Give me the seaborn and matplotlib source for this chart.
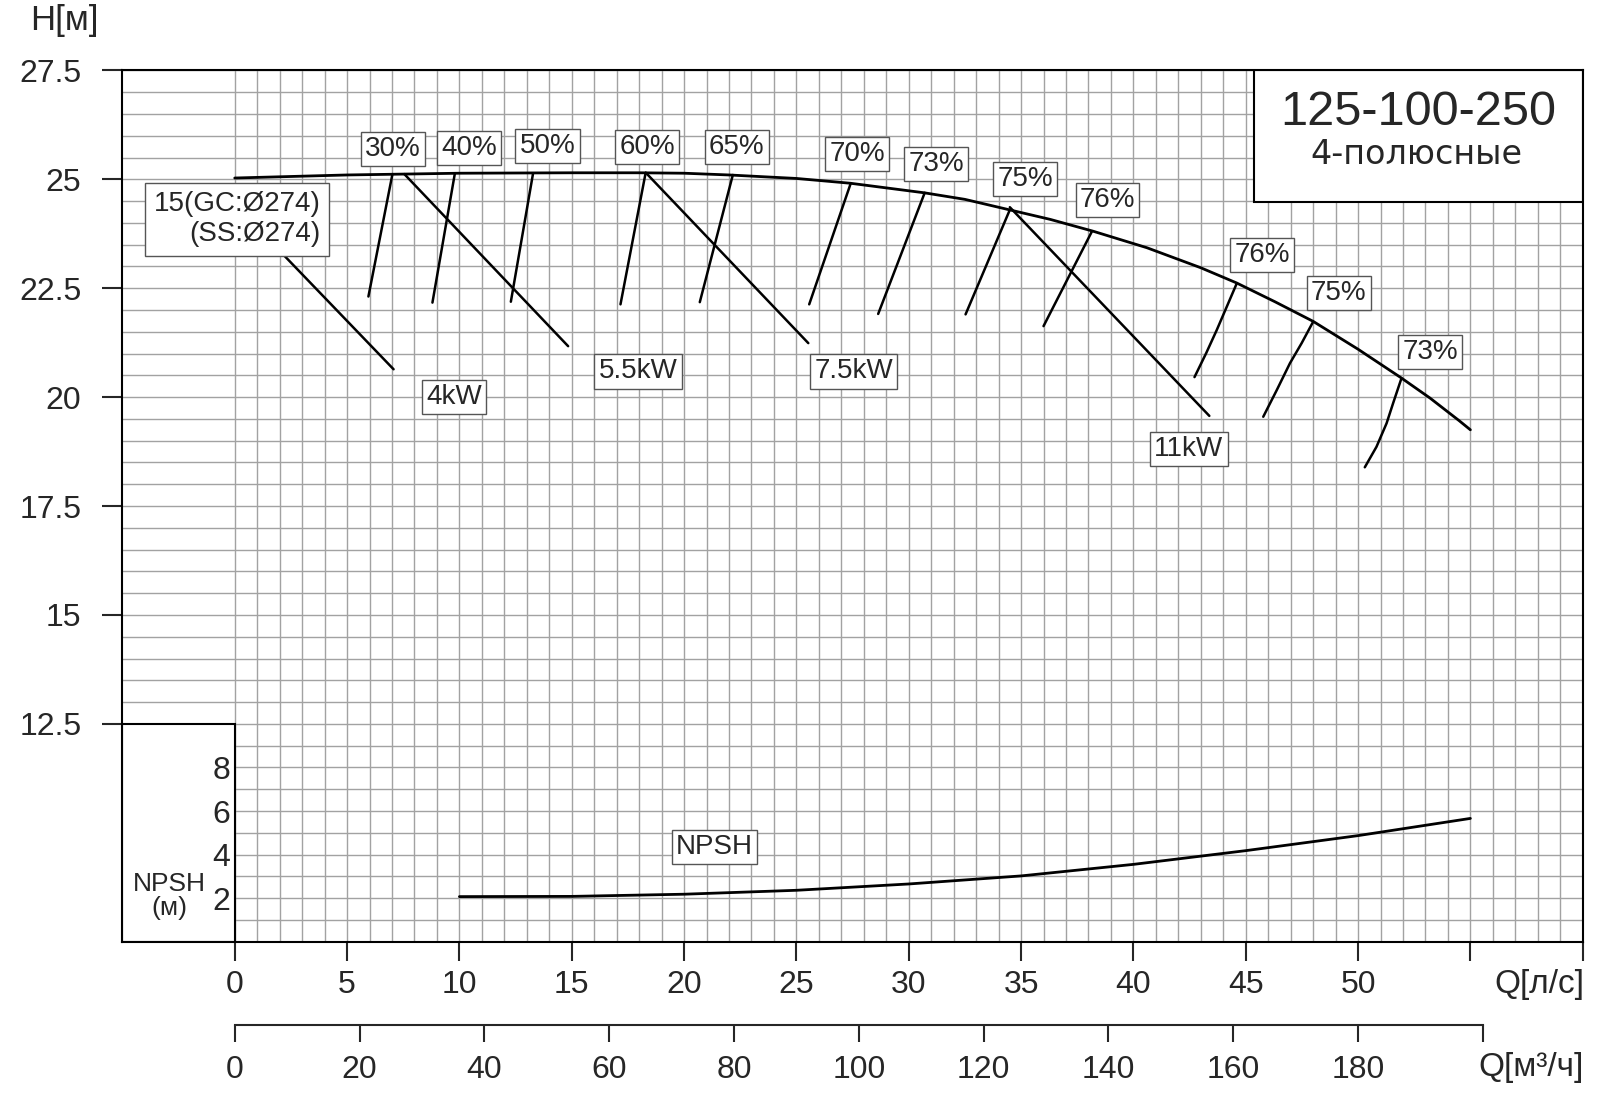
import matplotlib
matplotlib.use("Agg")
import matplotlib.pyplot as plt
import seaborn as sns
import numpy as np
import pandas as pd
from matplotlib.patches import Rectangle

# ---------------- data ----------------
hq_q = [0, 5, 10, 15, 18, 20, 22, 25, 27.4, 30.7, 32.5, 34.4, 36.3, 38.2, 40.6, 43.0, 44.6, 46.3, 48.0, 50.0, 51.9, 53.2, 54.5, 55.0]
hq_h = [25.03, 25.10, 25.14, 25.15, 25.15, 25.14, 25.10, 25.02, 24.91, 24.69, 24.54, 24.31, 24.08, 23.81, 23.43, 22.97, 22.62, 22.19, 21.74, 21.10, 20.45, 19.98, 19.46, 19.25]

npsh_q = [10, 15, 20, 25, 30, 35, 40, 45, 50, 55]
npsh_v = [2.07, 2.08, 2.18, 2.36, 2.65, 3.02, 3.55, 4.18, 4.87, 5.66]

eff_labels = ["30%", "40%", "50%", "60%", "65%", "70%", "73%", "75%", "76%", "76%", "75%", "73%"]
eff_q = [[7.02, 5.95], [9.80, 8.80], [13.28, 12.29], [18.29, 17.17], [22.17, 20.70],
         [27.42, 25.57], [30.71, 28.64], [34.50, 32.53], [38.16, 36.00],
         [44.60, 44.16, 43.71, 43.24, 42.72],
         [48.00, 47.49, 46.97, 46.38, 45.78],
         [51.93, 51.56, 51.27, 50.82, 50.30]]
eff_h = [[25.12, 22.31], [25.14, 22.17], [25.14, 22.19], [25.15, 22.13], [25.10, 22.18],
         [24.91, 22.13], [24.69, 21.91], [24.30, 21.90], [23.81, 21.63],
         [22.61, 22.08, 21.54, 21.01, 20.46],
         [21.73, 21.24, 20.78, 20.16, 19.55],
         [20.43, 19.86, 19.40, 18.86, 18.39]]
eff_lab_q = [7.03, 10.43, 13.92, 18.36, 22.35, 27.7, 31.23, 35.18, 38.85, 45.74, 49.14, 53.22]
eff_lab_h = [25.70, 25.72, 25.77, 25.74, 25.74, 25.58, 25.35, 25.00, 24.53, 23.26, 22.39, 21.04]

pw_labels = ["4kW", "5.5kW", "7.5kW", "11kW"]
pw_q = [[2.07, 7.07], [7.55, 14.84], [18.30, 25.53], [34.50, 43.38]]
pw_h = [[23.32, 20.64], [25.12, 21.17], [25.15, 21.24], [24.36, 19.57]]
pw_lab_q = [9.75, 17.95, 27.56, 42.47]
pw_lab_h = [20.00, 20.59, 20.59, 18.81]

x_ticks = [0, 5, 10, 15, 20, 25, 30, 35, 40, 45, 50, 55, 60]
x_labels = ["0", "5", "10", "15", "20", "25", "30", "35", "40", "45", "50", "", ""]
m3_ticks = [0, 20, 40, 60, 80, 100, 120, 140, 160, 180, 200]
m3_labels = ["0", "20", "40", "60", "80", "100", "120", "140", "160", "180", ""]
y_ticks = [12.5, 15, 17.5, 20, 22.5, 25, 27.5]
y_labels = ["12.5", "15", "17.5", "20", "22.5", "25", "27.5"]
npsh_ticks = [2, 4, 6, 8]

title = "125-100-250"
subtitle = "4-полюсные"
curve_label = "15(GC:Ø274)\n(SS:Ø274)"

# ---------------- style ----------------
sns.set_style("ticks")
plt.rcParams["font.family"] = ["Liberation Sans", "DejaVu Sans"]
plt.rcParams["axes.linewidth"] = 1.5

fig = plt.figure(figsize=(16, 10.95), dpi=100)
ax = fig.add_axes([0.0765, 0.140, 0.9127, 0.7957])
ax.set_xlim(-5, 60)
ax.set_ylim(7.5, 27.5)

grid_c = "#a2a2a2"
ax.vlines(np.arange(0, 61, 1), 7.5, 27.5, colors=grid_c, lw=1.0, zorder=0)
ax.hlines(np.arange(7.5, 27.51, 0.5), -5, 60, colors=grid_c, lw=1.0, zorder=0)

for s in ax.spines.values():
    s.set_color("black")
    s.set_linewidth(1.5)
    s.set_zorder(5)

# NPSH box
ax.add_patch(Rectangle((-5, 7.5), 5, 5, facecolor="white", edgecolor="black", lw=1.5, zorder=3))
# title box
ax.add_patch(Rectangle((45.37, 24.48), 14.63, 3.02, facecolor="white", edgecolor="black", lw=1.5, zorder=3))
ax.text(52.67, 26.54, title, fontsize=35, ha="center", va="center", zorder=4)
ax.text(52.6, 25.56, subtitle, fontsize=24, ha="center", va="center", zorder=4,
        family=["DejaVu Sans"])

# main curve
sns.lineplot(x=hq_q, y=hq_h, ax=ax, color="black", lw=2.0, sort=False, estimator=None, zorder=4)
for qq, hh in zip(eff_q, eff_h):
    sns.lineplot(x=qq, y=hh, ax=ax, color="black", lw=1.8, sort=False, estimator=None, zorder=4)
for qq, hh in zip(pw_q, pw_h):
    sns.lineplot(x=qq, y=hh, ax=ax, color="black", lw=1.8, sort=False, estimator=None, zorder=4)

box = dict(boxstyle="square,pad=0.15", facecolor="white", edgecolor="#555555", lw=1.0)
for lab, qx, hy in zip(eff_labels, eff_lab_q, eff_lab_h):
    ax.text(qx, hy, lab, fontsize=20, ha="center", va="center", bbox=box, zorder=6)
for lab, qx, hy in zip(pw_labels, pw_lab_q, pw_lab_h):
    ax.text(qx, hy, lab, fontsize=20, ha="center", va="center", bbox=box, zorder=6)
ax.text(0.1, 24.08, curve_label, fontsize=20, ha="center", va="center", multialignment="right",
        linespacing=1.2, bbox=dict(boxstyle="square,pad=0.3", facecolor="white", edgecolor="#555555", lw=1.0),
        zorder=6)

# ticks
ax.set_xticks(x_ticks)
ax.set_xticklabels(x_labels)
ax.set_yticks(y_ticks)
ax.set_yticklabels(y_labels)
ax.tick_params(axis="x", direction="out", length=13.5, width=1.5, pad=7, labelsize=23)
ax.tick_params(axis="y", direction="out", length=14.5, width=1.5, pad=15, labelsize=23)
ax.set_xlabel("")
ax.set_ylabel("")

# NPSH axis
axn = ax.twinx()
axn.set_ylim(0, 40)
axn.yaxis.set_ticks_position("left")
axn.yaxis.set_label_position("left")
axn.spines["left"].set_position(("data", 0))
for s in axn.spines.values():
    s.set_visible(False)
axn.set_yticks(npsh_ticks)
axn.set_yticklabels([str(t) for t in npsh_ticks])
axn.tick_params(axis="y", length=0, pad=3, labelsize=23)
sns.lineplot(x=npsh_q, y=npsh_v, ax=axn, color="black", lw=2.0, sort=False, estimator=None)
axn.set_ylabel("")
axn.text(21.35, 4.36, "NPSH", fontsize=20, ha="center", va="center", bbox=box, zorder=6)
axn.text(-2.9, 2.1, "NPSH\n(м)", fontsize=19, ha="center", va="center", linespacing=1.0, zorder=6)

# secondary flow axis (m3/h)
secax = ax.secondary_xaxis(-0.0955, functions=(lambda q: q * 3.6, lambda m: m / 3.6))
secax.set_xticks(m3_ticks)
secax.set_xticklabels(m3_labels)
secax.tick_params(axis="x", direction="out", length=12.5, width=1.5, pad=9, labelsize=23)
secax.spines["bottom"].set_bounds(0, 200)
secax.spines["bottom"].set_linewidth(1.5)

fig.text(0.99, 0.1005, "Q[л/с]", fontsize=24, ha="right", va="center")
fig.text(0.99, 0.0247, "Q[м³/ч]", fontsize=24, ha="right", va="center")
fig.text(0.019, 0.9817, "H[м]", fontsize=25, ha="left", va="center")

fig.savefig("out.png", dpi=100)
